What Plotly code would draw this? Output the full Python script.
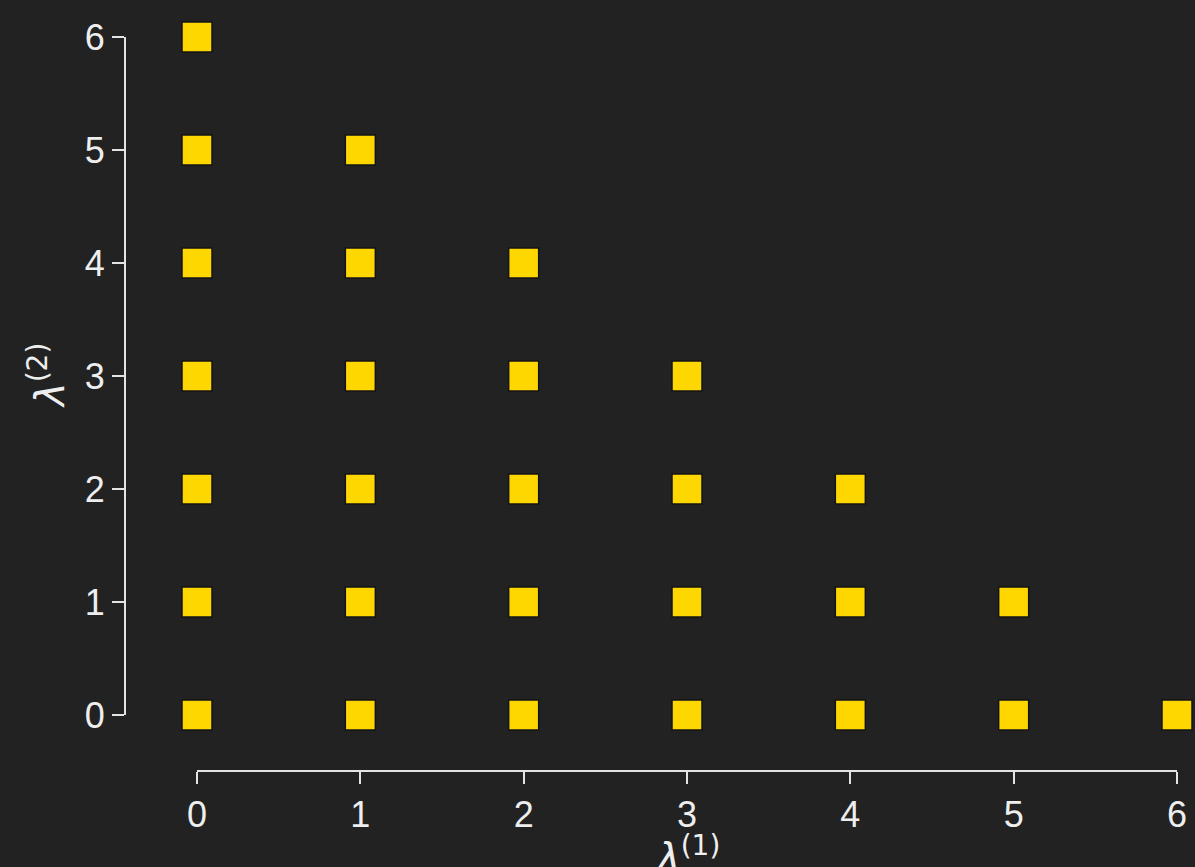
import plotly.graph_objects as go

# Lattice points (lambda1, lambda2) with lambda1 + lambda2 <= 6
lam1 = [0, 0, 0, 0, 0, 0, 0,
        1, 1, 1, 1, 1, 1,
        2, 2, 2, 2, 2,
        3, 3, 3, 3,
        4, 4, 4,
        5, 5,
        6]
lam2 = [0, 1, 2, 3, 4, 5, 6,
        0, 1, 2, 3, 4, 5,
        0, 1, 2, 3, 4,
        0, 1, 2, 3,
        0, 1, 2,
        0, 1,
        0]
ticks = [0, 1, 2, 3, 4, 5, 6]

W, H = 1195, 867
BG = "#222222"
FG = "#eeeeee"
LINE = "#e4e4e4"

fig = go.Figure(go.Scatter(
    x=lam1, y=lam2, mode="markers",
    marker=dict(symbol="square", size=30, color="#FFD700",
                line=dict(color="#141414", width=1.5)),
    cliponaxis=False, hoverinfo="x+y",
))

# Offset (detached) axis spines with outside ticks
axis_common = dict(
    range=[0, 6], tickvals=ticks, ticktext=[str(t) for t in ticks],
    showgrid=False, zeroline=False, showline=True, linecolor=LINE, linewidth=2,
    ticks="outside", ticklen=12, tickwidth=2, tickcolor=LINE,
    tickfont=dict(family="Liberation Sans, Arial, sans-serif", size=36, color=FG),
    anchor="free", automargin=False,
)

fig.update_layout(
    width=W, height=H,
    margin=dict(l=0, r=0, t=0, b=0, pad=0, autoexpand=False),
    paper_bgcolor=BG, plot_bgcolor=BG,
    showlegend=False,
    xaxis=dict(axis_common, domain=[197 / W, 1177 / W], position=96 / H),
    yaxis=dict(axis_common, domain=[152 / H, 830 / H], position=125 / W),
    annotations=[
        dict(text="<i>λ</i><sup>(1)</sup>", x=3, xref="x", y=(H - 827) / H, yref="paper",
             xanchor="center", yanchor="top", showarrow=False,
             font=dict(family="DejaVu Sans, sans-serif", size=40, color=FG)),
        dict(text="<i>λ</i><sup>(2)</sup>", x=47 / W, xref="paper", y=3, yref="y",
             xanchor="center", yanchor="middle", textangle=-90, showarrow=False,
             font=dict(family="DejaVu Sans, sans-serif", size=40, color=FG)),
    ],
)

fig.write_html("out.html")
